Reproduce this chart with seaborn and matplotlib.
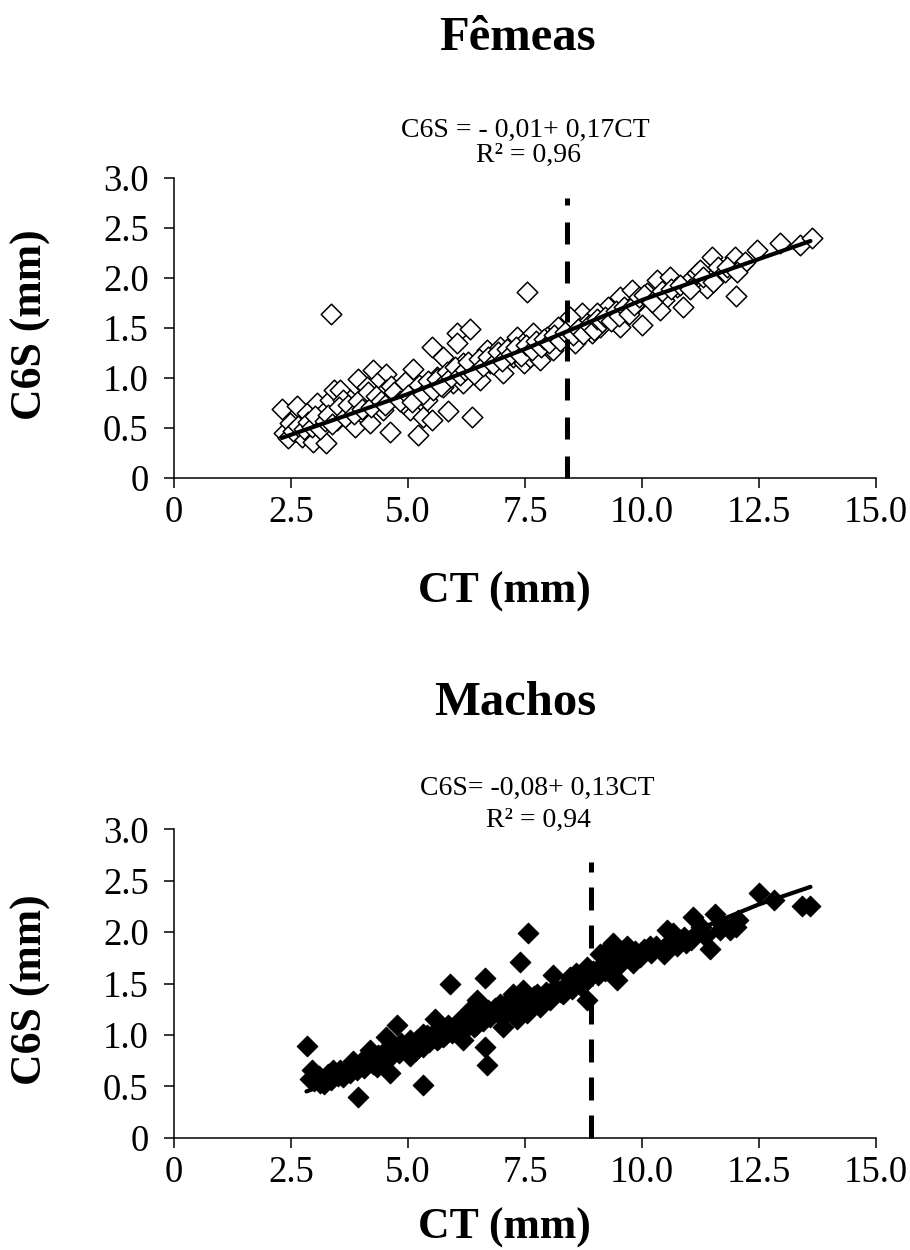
import numpy as np
import pandas as pd
import seaborn as sns
import matplotlib.pyplot as plt

# Femeas (open diamonds), CT (mm) vs C6S (mm)
fem_ct = [2.30, 2.62, 2.34, 2.48, 2.44, 2.73, 2.91, 2.98, 3.25, 2.84, 3.05, 3.19, 3.33, 3.41, 3.55, 3.35,
          3.48, 3.62, 3.76, 3.94, 4.08, 4.26, 4.54, 4.33, 3.87, 4.19, 4.62, 4.47, 4.76, 4.90, 5.11, 5.04,
          5.22, 5.33, 5.51, 5.40, 5.51, 5.61, 5.75, 5.86, 5.97, 6.04, 6.04, 6.32, 6.18, 6.36, 6.47, 6.68,
          6.54, 6.97, 7.04, 7.25, 7.32, 7.47, 7.54, 5.75, 5.19, 4.54, 4.12, 3.62, 4.90, 6.18, 6.75, 7.04,
          7.46, 7.61, 7.82, 8.10, 8.21, 8.32, 8.57, 8.71, 8.82, 8.93, 9.10, 9.28, 9.39, 9.53, 9.67, 9.78,
          9.89, 9.99, 10.10, 10.31, 10.46, 10.60, 10.74, 10.88, 11.03, 11.17, 11.38, 11.49, 11.63, 11.77,
          11.99, 12.01, 12.13, 12.45, 12.95, 13.38, 13.63, 7.39, 7.68, 7.96, 8.46, 9.03, 9.53, 10.38, 11.24,
          2.55, 2.66, 2.77, 2.86, 2.95, 3.02, 3.12, 3.22, 3.28, 3.38, 3.52, 3.66, 3.72, 3.84, 3.93, 4.02,
          4.14, 4.22, 4.31, 4.42, 4.51, 4.63, 4.71, 4.82, 4.93, 5.01, 5.09, 5.24, 5.31, 5.43, 5.53, 5.62,
          5.71, 5.83, 5.92, 6.01, 6.11, 6.22, 6.29, 6.41, 6.52, 6.61, 6.72, 6.81, 6.92, 7.01, 7.12, 7.21,
          7.31, 7.42, 7.53, 7.64, 7.73, 7.84, 7.91, 8.02, 8.12, 8.24, 8.36, 8.52, 8.63, 8.74, 8.86, 8.97,
          9.04, 9.14, 9.22, 9.33, 9.44, 9.51, 9.62, 9.72, 9.83, 9.93, 10.04, 10.21, 10.42, 10.63, 10.82,
          11.02, 11.31, 11.52, 11.82, 12.21, 12.04]
fem_c6s = [0.69, 0.72, 0.45, 0.55, 0.40, 0.41, 0.45, 0.36, 0.35, 0.65, 0.75, 0.65, 0.78, 0.88, 0.88, 1.64,
           0.58, 0.68, 0.78, 0.99, 0.78, 1.08, 1.04, 0.95, 0.51, 0.55, 0.46, 0.68, 0.81, 0.88, 1.09, 0.68,
           0.43, 0.61, 0.58, 0.78, 1.31, 1.01, 1.21, 0.67, 0.95, 1.45, 1.35, 1.49, 1.15, 0.61, 1.08, 1.28,
           0.98, 1.31, 1.05, 1.21, 1.41, 1.15, 1.86, 0.91, 0.88, 0.88, 0.91, 0.78, 0.75, 0.95, 1.15, 1.21,
           1.35, 1.21, 1.18, 1.28, 1.51, 1.41, 1.35, 1.65, 1.55, 1.45, 1.51, 1.71, 1.61, 1.81, 1.68, 1.88,
           1.75, 1.53, 1.85, 1.98, 1.78, 2.01, 1.91, 1.71, 1.98, 2.05, 1.90, 2.21, 2.11, 2.06,
           2.21, 1.82, 2.13, 2.28, 2.35, 2.33, 2.40, 1.26, 1.45, 1.41, 1.61, 1.65, 1.51, 1.68, 2.08,
           0.47, 0.52, 0.49, 0.56, 0.51, 0.62, 0.49, 0.57, 0.63, 0.54, 0.71, 0.61, 0.73, 0.64, 0.77, 0.69,
           0.86, 0.71, 0.82, 0.77, 0.73, 0.92, 0.86, 0.77, 0.96, 0.83, 0.76, 0.93, 0.84, 0.97, 0.88, 0.99,
           0.92, 1.06, 1.01, 1.11, 1.03, 1.08, 1.16, 1.04, 1.19, 1.12, 1.21, 1.14, 1.26, 1.17, 1.29, 1.24,
           1.31, 1.22, 1.33, 1.28, 1.37, 1.31, 1.39, 1.35, 1.43, 1.37, 1.46, 1.43, 1.49, 1.44, 1.53, 1.48,
           1.59, 1.56, 1.61, 1.57, 1.67, 1.62, 1.71, 1.64, 1.73, 1.81, 1.83, 1.76, 1.87, 1.89, 1.93,
           1.89, 2.01, 1.96, 2.11, 2.16, 2.06]

# Machos (filled diamonds)
mac_ct = [2.84, 2.94, 2.91, 3.12, 3.40, 3.62, 3.83, 3.94, 4.19, 4.33, 4.54, 4.76, 4.62, 4.90, 5.04, 5.33,
          5.33, 5.58, 5.61, 5.90, 5.97, 6.18, 6.40, 6.47, 6.65, 6.65, 6.68, 6.82, 6.97, 7.25, 7.39, 7.57,
          7.32, 7.50, 5.33, 5.75, 6.18, 5.04, 4.47, 4.05, 3.76, 3.26, 7.04, 6.32,
          7.54, 7.82, 8.10, 8.04, 8.32, 8.60, 8.82, 8.82, 9.10, 9.39, 9.46, 9.67, 9.81, 10.17, 10.46, 10.67,
          10.53, 10.95, 11.10, 11.27, 11.45, 11.56, 11.67, 11.88, 12.06, 12.49, 12.81, 13.41, 13.58, 8.46,
          9.24, 9.96, 10.81, 7.46, 7.75,
          3.00, 3.10, 3.20, 3.30, 3.35, 3.50, 3.55, 3.70, 3.80, 3.90, 4.00, 4.05, 4.15, 4.25, 4.35, 4.45,
          4.55, 4.60, 4.70, 4.80, 4.85, 4.95, 5.05, 5.15, 5.20, 5.30, 5.40, 5.45, 5.55, 5.65, 5.70, 5.80,
          5.85, 5.95, 6.05, 6.10, 6.20, 6.25, 6.35, 6.45, 6.50, 6.60, 6.70, 6.75, 6.85, 6.95, 7.05, 7.10,
          7.20, 7.35, 7.45, 7.60, 7.70, 7.85, 7.95, 8.05, 8.15, 8.25, 8.40, 8.50, 8.60, 8.70, 8.75, 8.85,
          8.95, 9.05, 9.15, 9.20, 9.30, 9.40, 9.50, 9.55, 9.65, 9.75, 9.85, 9.90, 10.05, 10.20, 10.30,
          10.45, 10.60, 10.75, 10.90, 11.05, 11.20, 11.35, 11.70, 12.00]
mac_c6s = [0.89, 0.66, 0.57, 0.53, 0.66, 0.59, 0.75, 0.40, 0.85, 0.69, 0.98, 1.10, 0.63, 0.88, 0.79, 0.51,
           0.88, 1.15, 0.95, 1.50, 1.05, 0.95, 1.08, 1.34, 1.55, 0.88, 0.71, 1.21, 1.30, 1.40, 1.71, 1.99,
           1.15, 1.24, 1.01, 0.98, 1.15, 0.95, 0.82, 0.69, 0.63, 0.59, 1.08, 1.24,
           1.21, 1.27, 1.58, 1.34, 1.40, 1.60, 1.34, 1.66, 1.79, 1.89, 1.53, 1.86, 1.70, 1.86, 1.79, 1.99,
           2.02, 1.89, 2.15, 2.05, 1.84, 2.18, 2.02, 2.02, 2.12, 2.38, 2.31, 2.25, 2.25, 1.56,
           1.82, 1.76, 1.92, 1.44, 1.40,
           0.55, 0.60, 0.52, 0.62, 0.56, 0.60, 0.66, 0.64, 0.70, 0.66, 0.74, 0.68, 0.78, 0.72, 0.80, 0.75,
           0.84, 0.78, 0.88, 0.82, 0.92, 0.85, 0.90, 0.84, 0.95, 0.90, 1.00, 0.93, 1.02, 0.96, 1.05, 1.00,
           1.10, 1.02, 1.08, 1.14, 1.05, 1.12, 1.18, 1.10, 1.20, 1.14, 1.24, 1.17, 1.26, 1.20, 1.28, 1.22,
           1.32, 1.26, 1.34, 1.30, 1.38, 1.34, 1.42, 1.38, 1.46, 1.42, 1.50, 1.45, 1.52, 1.48, 1.58, 1.54,
           1.62, 1.58, 1.68, 1.62, 1.72, 1.68, 1.76, 1.70, 1.78, 1.74, 1.82, 1.77, 1.84, 1.80, 1.86,
           1.84, 1.90, 1.86, 1.95, 1.92, 2.00, 1.96, 2.08, 2.05]

# fitted curves as drawn
fem_fit_ct = [2.3, 5.0, 7.5, 10.0, 12.5, 13.6]
fem_fit_c6s = [0.40, 0.84, 1.29, 1.78, 2.19, 2.37]
mac_fit_ct = [2.83, 5.0, 7.5, 8.9, 10.0, 11.0, 12.5, 13.6]
mac_fit_c6s = [0.45, 0.82, 1.26, 1.53, 1.79, 1.99, 2.27, 2.44]

# vertical dashed marks
fem_cut_ct = 8.4
fem_cut_top = 2.8
mac_cut_ct = 8.9
mac_cut_top = 2.68

x_ticks = [0, 2.5, 5.0, 7.5, 10.0, 12.5, 15.0]
x_labels = ['0', '2.5', '5.0', '7.5', '10.0', '12.5', '15.0']
y_ticks = [0, 0.5, 1.0, 1.5, 2.0, 2.5, 3.0]
y_labels = ['0', '0.5', '1.0', '1.5', '2.0', '2.5', '3.0']

sns.set_style('white')
plt.rcParams['font.family'] = ['Liberation Serif', 'DejaVu Serif']
plt.rcParams['text.color'] = 'black'
plt.rcParams['axes.labelcolor'] = 'black'
plt.rcParams['xtick.color'] = 'black'
plt.rcParams['ytick.color'] = 'black'
plt.rcParams['xtick.bottom'] = True
plt.rcParams['ytick.left'] = True

W, H = 910, 1250
fig = plt.figure(figsize=(W / 100, H / 100), dpi=100)


def px_axes(left, top, right, bottom):
    return fig.add_axes([left / W, 1 - bottom / H, (right - left) / W, (bottom - top) / H])


def style_ax(ax):
    ax.set_xlim(0, 15)
    ax.set_ylim(0, 3)
    ax.set_xticks(x_ticks)
    ax.set_xticklabels(x_labels)
    ax.set_yticks(y_ticks)
    ax.set_yticklabels(y_labels)
    ax.set_xlabel('')
    ax.set_ylabel('')
    sns.despine(ax=ax)
    for s in ['left', 'bottom']:
        ax.spines[s].set_linewidth(1.1)
        ax.spines[s].set_color('black')
    ax.tick_params(axis='both', direction='out', length=7.2, width=1.1, colors='black',
                   labelcolor='black', labelsize=26.5, bottom=True, left=True)
    ax.tick_params(axis='y', pad=11)
    ax.tick_params(axis='x', pad=5.5)


# top panel
ax1 = px_axes(174, 178, 876, 478)
df_f = pd.DataFrame({'CT': fem_ct, 'C6S': fem_c6s})
sns.scatterplot(data=df_f, x='CT', y='C6S', ax=ax1, marker='D', s=110,
                facecolor='white', edgecolor='black', linewidth=1.1, zorder=2)
sns.lineplot(x=fem_fit_ct, y=fem_fit_c6s, ax=ax1, color='black', lw=3, zorder=3)
ax1.plot([fem_cut_ct, fem_cut_ct], [0, fem_cut_top], color='black', lw=3.6,
         linestyle=(0, (4.4, 3.4)), zorder=4, clip_on=False)
style_ax(ax1)

# bottom panel
ax2 = px_axes(174, 829.3, 876, 1137.7)
df_m = pd.DataFrame({'CT': mac_ct, 'C6S': mac_c6s})
sns.scatterplot(data=df_m, x='CT', y='C6S', ax=ax2, marker='D', s=110,
                color='black', edgecolor='black', linewidth=0.8, zorder=2)
sns.lineplot(x=mac_fit_ct, y=mac_fit_c6s, ax=ax2, color='black', lw=3, zorder=3)
ax2.plot([mac_cut_ct, mac_cut_ct], [0, mac_cut_top], color='black', lw=3.6,
         linestyle=(0, (4.6, 3.0)), zorder=4, clip_on=False)
style_ax(ax2)

# titles, equations and axis labels
fig.text(518 / W, 1 - 50 / H, 'Fêmeas', ha='center', va='baseline', fontsize=35, fontweight='bold')
fig.text(525 / W, 1 - 137 / H, 'C6S = - 0,01+ 0,17CT', ha='center', va='baseline', fontsize=20)
fig.text(529 / W, 1 - 162 / H, 'R² = 0,96', ha='center', va='baseline', fontsize=20)
fig.text(504 / W, 1 - 603 / H, 'CT (mm)', ha='center', va='baseline', fontsize=31.5, fontweight='bold')
fig.text(31 / W, 1 - 325 / H, 'C6S (mm)', ha='center', va='center', rotation=90,
         fontsize=31.5, fontweight='bold')

fig.text(515 / W, 1 - 715 / H, 'Machos', ha='center', va='baseline', fontsize=35, fontweight='bold')
fig.text(537 / W, 1 - 795 / H, 'C6S= -0,08+ 0,13CT', ha='center', va='baseline', fontsize=20)
fig.text(538 / W, 1 - 827 / H, 'R² = 0,94', ha='center', va='baseline', fontsize=20)
fig.text(504 / W, 1 - 1239 / H, 'CT (mm)', ha='center', va='baseline', fontsize=31.5, fontweight='bold')
fig.text(31 / W, 1 - 990 / H, 'C6S (mm)', ha='center', va='center', rotation=90,
         fontsize=31.5, fontweight='bold')

fig.savefig('out.png', dpi=100)
